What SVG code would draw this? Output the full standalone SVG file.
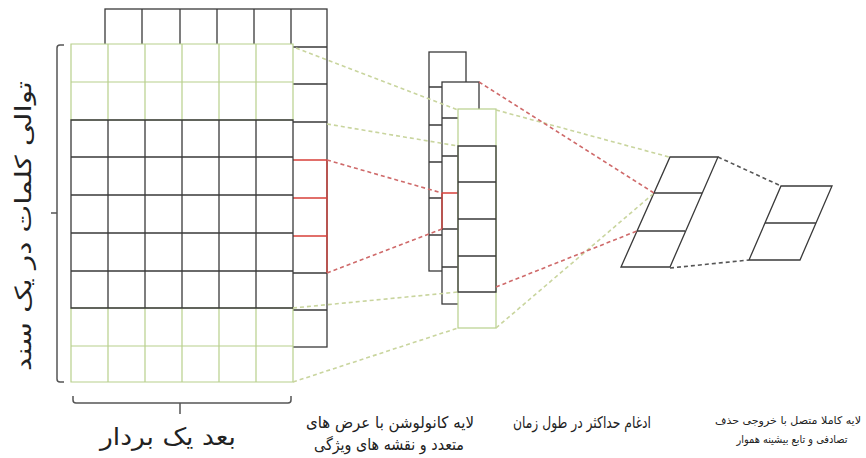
<svg xmlns="http://www.w3.org/2000/svg" width="866" height="458" viewBox="0 0 866 458">
<style>
.k{stroke:#3a3a3a;stroke-width:1.3;fill:none}
.kf{stroke:#3a3a3a;stroke-width:1.3;fill:#fff}
.g{stroke:#b8d08c;stroke-width:1.2;fill:none}
.r{stroke:#d8403a;stroke-width:1.3;fill:none}
.br{stroke:#555;stroke-width:1.5;fill:none}
.dg{stroke:#c9d59e;stroke-width:1.6;stroke-dasharray:4 3;fill:none}
.dr{stroke:#cf6a6a;stroke-width:1.6;stroke-dasharray:4 3;fill:none}
.dk{stroke:#555;stroke-width:1.6;stroke-dasharray:4 3;fill:none}
.lbl{font-family:"DejaVu Sans",sans-serif;fill:#222;text-anchor:middle}
</style>
<rect width="866" height="458" fill="#fff"/>

<g id="input-back">
<rect class="kf" x="105" y="9" width="222" height="338"/>
<path class="k" d="M142 9V44M180 9V44M217 9V44M254 9V44M291 9V44M293 47H327M293 84H327M293 122H327M293 273H327M293 310H327"/>
<path class="r" d="M293 160H327M293 198H327M293 236H327M327 160V273"/>
</g>

<g id="input-matrix">
<rect x="71" y="44" width="222" height="338" fill="#fff"/>
<path class="g" d="M71 44H293V120H71ZM71 82H293M108 44V120M145 44V120M182 44V120M219 44V120M256 44V120"/>
<path class="g" d="M71 308H293V382H71ZM71 346H293M108 308V382M145 308V382M182 308V382M219 308V382M256 308V382"/>
<path class="k" d="M71 120H293V308H71ZM71 157H293M71 195H293M71 233H293M71 271H293M108 120V308M145 120V308M182 120V308M219 120V308M256 120V308"/>
</g>

<g id="bracket-rows">
<path class="br" d="M64 45H60Q57 45 57 48V379Q57 382 60 382H64M57 213H51"/>
</g>
<g id="bracket-cols">
<path class="br" d="M73 396V400Q73 403 76 403H288Q291 403 291 400V396M180 403V414"/>
</g>

<g id="conv-map-1">
<rect class="kf" x="429" y="52" width="37" height="219"/>
<path class="k" d="M429 87H466M429 125H466M429 162H466M429 198H466M429 235H466"/>
</g>
<g id="conv-map-2">
<rect class="kf" x="442" y="82" width="37" height="222"/>
<path class="k" d="M442 118H479M442 156H479M442 229H479M442 267H479"/>
<path class="r" d="M442 193H479M442 193V229"/>
</g>
<g id="conv-map-3">
<rect x="458" y="109" width="38" height="219" fill="#fff" stroke="#b8d08c" stroke-width="1.2"/>
<path class="k" d="M458 146H496V292H458ZM458 182H496M458 219H496M458 256H496"/>
</g>

<g id="max-pool">
<path class="k" d="M670 157H718L670 267H621ZM654 193H702M637 231H685"/>
</g>
<g id="fully-connected">
<path class="k" d="M781 186H832L800 260H749ZM765 223H816"/>
</g>

<g id="connectors">
<path class="dg" d="M296 48L458 110"/>
<path class="dg" d="M327 124L458 146"/>
<path class="dg" d="M293 308L458 292"/>
<path class="dg" d="M293 382L458 328"/>
<path class="dg" d="M496 110L669 157"/>
<path class="dg" d="M496 328L653 194"/>
<path class="dr" d="M327 160L442 193"/>
<path class="dr" d="M327 273L442 229"/>
<path class="dr" d="M479 82L654 193"/>
<path class="dr" d="M496 287L637 231"/>
<path class="dk" d="M718 157L781 186"/>
<path class="dk" d="M670 268L749 260"/>
</g>

<g id="labels">
<text class="lbl" transform="translate(31 226) rotate(-90)" font-size="22" textLength="290" lengthAdjust="spacingAndGlyphs">توالی کلمات در یک سند</text>
<text class="lbl" x="168" y="445" font-size="24" textLength="136" lengthAdjust="spacingAndGlyphs">بعد یک بردار</text>
<text class="lbl" x="390" y="428" font-size="16" textLength="168" lengthAdjust="spacingAndGlyphs">لایه کانولوشن با عرض های</text>
<text class="lbl" x="389" y="450" font-size="16" textLength="150" lengthAdjust="spacingAndGlyphs">متعدد و نقشه های ویژگی</text>
<text class="lbl" x="582" y="428" font-size="16" textLength="138" lengthAdjust="spacingAndGlyphs">ادغام حداکثر در طول زمان</text>
<text class="lbl" x="788" y="424" font-size="10.5" textLength="146" lengthAdjust="spacingAndGlyphs">لایه کاملا متصل با خروجی حذف</text>
<text class="lbl" x="792" y="443" font-size="11" textLength="111" lengthAdjust="spacingAndGlyphs">تصادفی و تابع بیشینه هموار</text>
</g>
</svg>
